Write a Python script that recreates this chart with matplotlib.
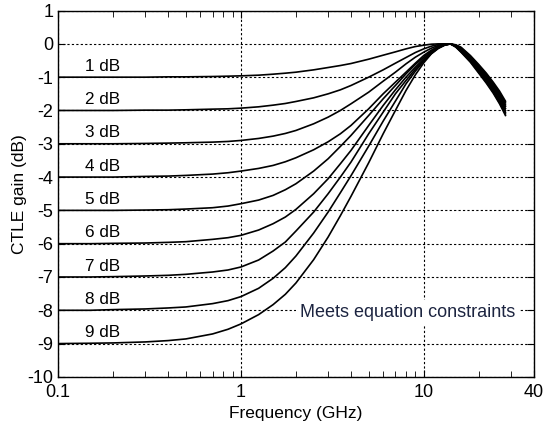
import numpy as np
import matplotlib
matplotlib.use('Agg')
import matplotlib.pyplot as plt
from matplotlib.ticker import FixedLocator, NullFormatter

plt.rcParams['font.family'] = ['Liberation Sans', 'DejaVu Sans']
plt.rcParams['axes.unicode_minus'] = False

freq = [0.1, 0.15, 0.2, 0.3, 0.4, 0.5, 0.7, 0.85, 1, 1.25, 1.5, 1.75, 2, 2.5, 3,
        3.5, 4, 5, 6, 7, 8, 9, 10, 11, 12, 13, 14, 15, 16, 18, 20, 22, 24, 26, 28]

# CTLE gain (dB) for each DC attenuation setting
gain_1db = [-1.00, -1.00, -1.00, -1.00, -0.99, -0.99, -0.98, -0.97, -0.96, -0.94,
            -0.91, -0.88, -0.85, -0.78, -0.71, -0.65, -0.59, -0.46, -0.34, -0.24,
            -0.15, -0.08, -0.04, -0.01, 0.00, 0.00, 0.00, -0.03, -0.10, -0.35,
            -0.62, -0.88, -1.15, -1.42, -1.72]
gain_2db = [-2.00, -2.00, -2.00, -1.99, -1.99, -1.98, -1.96, -1.95, -1.93, -1.89,
            -1.84, -1.79, -1.73, -1.62, -1.50, -1.38, -1.25, -1.00, -0.78, -0.58,
            -0.41, -0.26, -0.15, -0.07, -0.02, 0.00, 0.00, -0.04, -0.12, -0.38,
            -0.65, -0.92, -1.19, -1.47, -1.77]
gain_3db = [-3.00, -3.00, -3.00, -2.99, -2.98, -2.97, -2.95, -2.93, -2.90, -2.84,
            -2.77, -2.69, -2.60, -2.40, -2.20, -2.00, -1.80, -1.45, -1.12, -0.85,
            -0.60, -0.40, -0.25, -0.13, -0.05, -0.01, 0.00, -0.05, -0.14, -0.40,
            -0.68, -0.96, -1.23, -1.52, -1.83]
gain_4db = [-4.00, -4.00, -4.00, -3.98, -3.97, -3.95, -3.91, -3.87, -3.82, -3.74,
            -3.65, -3.54, -3.42, -3.18, -2.94, -2.70, -2.45, -1.95, -1.50, -1.15,
            -0.85, -0.58, -0.35, -0.19, -0.08, -0.02, 0.00, -0.06, -0.16, -0.43,
            -0.71, -1.00, -1.27, -1.57, -1.88]
gain_5db = [-5.00, -5.00, -5.00, -4.99, -4.98, -4.96, -4.92, -4.87, -4.80, -4.69,
            -4.55, -4.38, -4.20, -3.82, -3.45, -3.08, -2.75, -2.15, -1.65, -1.25,
            -0.90, -0.62, -0.40, -0.22, -0.10, -0.03, 0.00, -0.06, -0.18, -0.45,
            -0.75, -1.04, -1.32, -1.62, -1.94]
gain_6db = [-6.00, -6.00, -5.99, -5.98, -5.96, -5.94, -5.87, -5.82, -5.75, -5.59,
            -5.40, -5.20, -4.97, -4.50, -4.05, -3.60, -3.20, -2.45, -1.85, -1.38,
            -1.00, -0.70, -0.45, -0.25, -0.11, -0.03, 0.00, -0.07, -0.20, -0.48,
            -0.78, -1.08, -1.37, -1.68, -2.00]
gain_7db = [-7.00, -7.00, -6.99, -6.97, -6.95, -6.92, -6.85, -6.79, -6.70, -6.49,
            -6.22, -5.95, -5.62, -5.05, -4.50, -4.00, -3.55, -2.70, -2.05, -1.50,
            -1.10, -0.76, -0.50, -0.28, -0.12, -0.03, 0.00, -0.08, -0.22, -0.50,
            -0.81, -1.12, -1.41, -1.73, -2.05]
gain_8db = [-8.00, -8.00, -7.98, -7.96, -7.93, -7.90, -7.80, -7.71, -7.59, -7.34,
            -7.04, -6.72, -6.37, -5.68, -5.05, -4.47, -3.96, -3.07, -2.32, -1.72,
            -1.20, -0.82, -0.52, -0.29, -0.13, -0.04, 0.00, -0.09, -0.24, -0.53,
            -0.85, -1.15, -1.45, -1.77, -2.10]
gain_9db = [-9.00, -8.99, -8.98, -8.95, -8.91, -8.86, -8.71, -8.57, -8.41, -8.13,
            -7.83, -7.52, -7.18, -6.48, -5.80, -5.16, -4.58, -3.57, -2.70, -2.00,
            -1.40, -0.93, -0.57, -0.30, -0.14, -0.04, 0.00, -0.10, -0.25, -0.55,
            -0.88, -1.18, -1.48, -1.80, -2.15]

curve_labels = ['1 dB', '2 dB', '3 dB', '4 dB', '5 dB', '6 dB', '7 dB', '8 dB', '9 dB']
dc_levels = [-1, -2, -3, -4, -5, -6, -7, -8, -9]
curves = [gain_1db, gain_2db, gain_3db, gain_4db, gain_5db,
          gain_6db, gain_7db, gain_8db, gain_9db]

x_ticks = [0.1, 1, 10, 40]
x_ticklabels = ['0.1', '1', '10', '40']
y_ticks = list(range(-10, 2))

fig = plt.figure(figsize=(5.43, 4.23), dpi=100)
ax = fig.add_axes([0.107, 0.109, 0.876, 0.866])

for g in curves:
    ax.plot(freq, g, color='black', lw=1.2, zorder=3)

# attenuation labels just above each flat part
for lab, lvl in zip(curve_labels, dc_levels):
    ax.text(0.14, lvl + 0.1, lab, fontsize=12.3, va='bottom', ha='left', zorder=4)

ax.text(2.1, -8.08, 'Meets equation constraints', fontsize=13, color='#1c2440',
        va='center', ha='left', zorder=5,
        bbox=dict(facecolor='white', edgecolor='none', pad=3))

ax.set_xscale('log')
ax.set_xlim(0.1, 40)
ax.set_ylim(-10, 1)
ax.xaxis.set_major_locator(FixedLocator(x_ticks))
ax.set_xticklabels(x_ticklabels)
minor = [m * d for d in (0.1, 1, 10) for m in range(2, 10) if m * d < 40]
ax.xaxis.set_minor_locator(FixedLocator(minor))
ax.xaxis.set_minor_formatter(NullFormatter())
ax.set_yticks(y_ticks)

ax.tick_params(which='both', direction='in', top=True, right=True, labelsize=13)
ax.tick_params(which='major', length=5)
ax.tick_params(which='minor', length=4)
ax.tick_params(axis='x', pad=5)

ax.grid(True, which='major', color='black', linestyle=(0, (2, 2)), lw=0.8)
for s in ax.spines.values():
    s.set_linewidth(1.0)

ax.set_xlabel('Frequency (GHz)', fontsize=12.5, labelpad=4)
ax.set_ylabel('CTLE gain (dB)', fontsize=12.5, labelpad=0)

fig.savefig('out.png', dpi=100)
